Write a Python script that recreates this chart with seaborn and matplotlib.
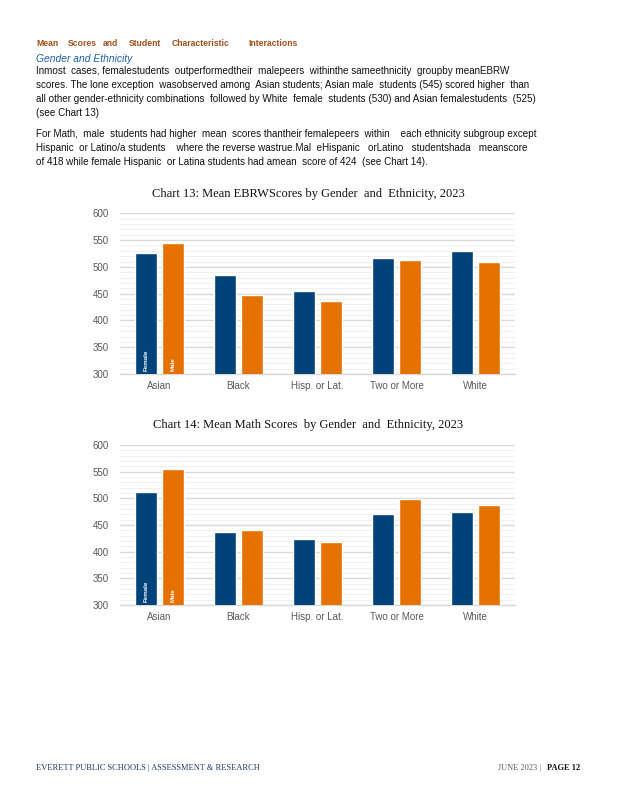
import matplotlib
matplotlib.use("Agg")
import matplotlib.pyplot as plt
import seaborn as sns
import pandas as pd
import numpy as np

ethnicities = ["Asian", "Black", "Hisp. or Lat.", "Two or More", "White"]
genders = ["Female", "Male"]
ebrw_female = [525, 485, 455, 517, 530]
ebrw_male = [545, 447, 436, 513, 510]
math_female = [512, 437, 424, 471, 475]
math_male = [555, 441, 418, 499, 487]
y_ticks = [300, 350, 400, 450, 500, 550, 600]

title13 = "Chart 13: Mean EBRWScores by Gender  and  Ethnicity, 2023"
title14 = "Chart 14: Mean Math Scores  by Gender  and  Ethnicity, 2023"

header_words = ["Mean", "Scores", "and", "Student", "Characteristic", "Interactions"]
subheader = "Gender and Ethnicity"
para1 = [
    "Inmost  cases, femalestudents  outperformedtheir  malepeers  withinthe sameethnicity  groupby meanEBRW",
    "scores. The lone exception  wasobserved among  Asian students; Asian male  students (545) scored higher  than",
    "all other gender-ethnicity combinations  followed by White  female  students (530) and Asian femalestudents  (525)",
    "(see Chart 13)",
]
para2 = [
    "For Math,  male  students had higher  mean  scores thantheir femalepeers  within    each ethnicity subgroup except",
    "Hispanic  or Latino/a students    where the reverse wastrue.Mal  eHispanic   orLatino   studentshada   meanscore",
    "of 418 while female Hispanic  or Latina students had amean  score of 424  (see Chart 14).",
]

BLUE = "#00427A"
ORANGE = "#E57200"

sns.set_theme(style="white")
plt.rcParams['font.family'] = ['Liberation Sans', 'DejaVu Sans']

fig = plt.figure(figsize=(6.18, 8), dpi=100)
W, H = 618, 800

def fx(x):
    return x / W

def fy(y):
    return 1 - y / H

# Header
header_x = [36, 68, 103, 129, 172, 248]
for wd, x in zip(header_words, header_x):
    fig.text(fx(x), fy(44), wd, fontsize=6.2, fontweight='bold', color="#A0501A",
             family=['DejaVu Sans Condensed', 'Liberation Sans Narrow', 'Liberation Sans'],
             va='center', ha='left')
fig.text(fx(36), fy(59), subheader, fontsize=7.4, style='italic', color="#1F5FA8", va='center')
for i, line in enumerate(para1):
    fig.text(fx(36), fy(71 + 14 * i), line, fontsize=7.1, color="#111111", va='center')
for i, line in enumerate(para2):
    fig.text(fx(36), fy(134 + 14 * i), line, fontsize=7.1, color="#111111", va='center')


def draw_chart(top, bottom, female, male, title, title_y):
    ax = fig.add_axes([fx(120), fy(bottom), fx(515 - 120), (bottom - top) / H])
    df = pd.DataFrame({
        "Ethnicity": ethnicities * 2,
        "Gender": [genders[0]] * len(ethnicities) + [genders[1]] * len(ethnicities),
        "Score": list(female) + list(male),
    })
    sns.barplot(data=df, x="Ethnicity", y="Score", hue="Gender", order=ethnicities,
                hue_order=genders, palette=[BLUE, ORANGE], width=0.684, gap=0.222,
                saturation=1, legend=False, ax=ax, zorder=3)
    ax.set_ylim(300, 600)
    ax.set_yticks(y_ticks)
    ax.set_yticks(np.arange(300, 601, 10), minor=True)
    ax.grid(axis='y', which='major', color="#D9D9D9", linewidth=1.0, zorder=0)
    ax.grid(axis='y', which='minor', color="#F0F0F0", linewidth=0.8, zorder=0)
    ax.set_axisbelow(True)
    for s in ["top", "right", "left"]:
        ax.spines[s].set_visible(False)
    ax.spines["bottom"].set_color("#D9D9D9")
    ax.spines["bottom"].set_linewidth(1.0)
    ax.tick_params(axis='both', which='both', length=0, labelsize=7, colors="#595959", pad=5)
    ax.tick_params(axis='y', pad=8)
    ax.set_xlabel("")
    ax.set_ylabel("")
    # in-bar labels on first category
    for patch, lab in zip([ax.patches[0], ax.patches[len(ethnicities)]], genders):
        cx = patch.get_x() + patch.get_width() / 2
        ax.text(cx, 305, lab, rotation=90, fontsize=4.5, fontweight='bold', color='white',
                ha='center', va='bottom', zorder=5,
                family=['DejaVu Sans Condensed', 'Liberation Sans'])
    fig.text(fx(308), fy(title_y), title, fontsize=9, family=['Liberation Serif'],
             ha='center', va='center', color="#111111")
    return ax

draw_chart(213.3, 374, ebrw_female, ebrw_male, title13, 194)
draw_chart(445, 605, math_female, math_male, title14, 425)

# Footer
fig.text(fx(36), fy(768), "EVERETT PUBLIC SCHOOLS | ASSESSMENT & RESEARCH", fontsize=6,
         family=['Liberation Serif'], color="#1F3864", va='center', ha='left')
fig.text(fx(498), fy(768), "JUNE 2023 |", fontsize=6, family=['Liberation Serif'],
         color="#595959", va='center', ha='left')
fig.text(fx(547), fy(768), "PAGE 12", fontsize=6, family=['Liberation Serif'],
         color="#111111", fontweight='bold', va='center', ha='left')

fig.savefig("out.png", dpi=100, facecolor="white")
